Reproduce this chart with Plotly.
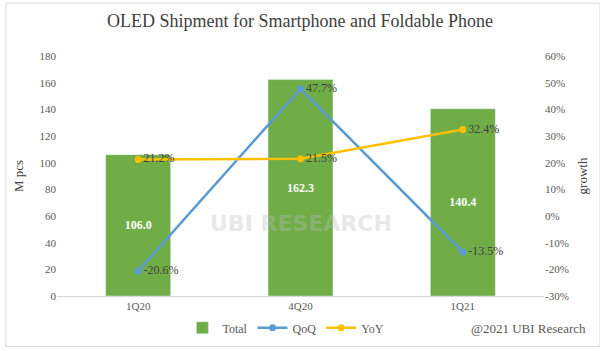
import plotly.graph_objects as go

quarters = ["1Q20", "4Q20", "1Q21"]
total = [106.0, 162.3, 140.4]
qoq = [-20.6, 47.7, -13.5]
yoy = [21.2, 21.5, 32.4]
left_ticks = [0, 20, 40, 60, 80, 100, 120, 140, 160, 180]
right_ticks = [-30, -20, -10, 0, 10, 20, 30, 40, 50, 60]

GREEN = "#70AD47"
BLUE = "#5B9BD5"
YELLOW = "#FFC000"
FONT = "Liberation Serif"

fig = go.Figure()
fig.add_trace(go.Bar(
    x=quarters, y=total, name="Total", marker_color=GREEN, width=0.4,
    text=[f"{v:.1f}" for v in total], textposition="inside", insidetextanchor="middle",
    textfont=dict(color="white", size=12, family=FONT), texttemplate="<b>%{text}</b>",
    yaxis="y"))
fig.add_trace(go.Scatter(
    x=quarters, y=qoq, name="QoQ", mode="lines+markers+text",
    line=dict(color=BLUE, width=2.5), marker=dict(size=7, color=BLUE),
    text=[f"{v:.1f}%" for v in qoq], textposition="middle right",
    textfont=dict(color="#404040", size=12, family=FONT), yaxis="y2"))
fig.add_trace(go.Scatter(
    x=quarters, y=yoy, name="YoY", mode="lines+markers+text",
    line=dict(color=YELLOW, width=2.5), marker=dict(size=7, color=YELLOW),
    text=[f"{v:.1f}%" for v in yoy], textposition="middle right",
    textfont=dict(color="#404040", size=12, family=FONT), yaxis="y2"))

fig.update_layout(
    width=600, height=351,
    margin=dict(l=57, r=56, t=56, b=55, autoexpand=False),
    paper_bgcolor="white", plot_bgcolor="white",
    font=dict(family=FONT, color="#595959", size=11),
    title=dict(text="OLED Shipment for Smartphone and Foldable Phone", x=0.5, xanchor="center",
               y=0.94, yanchor="middle", font=dict(size=18, color="#404040", family=FONT)),
    showlegend=True,
    legend=dict(orientation="h", x=0.47, xanchor="center", yref="container", y=0.066, yanchor="middle",
                font=dict(size=12, color="#595959", family=FONT), traceorder="normal",
                itemwidth=30, tracegroupgap=0),
    xaxis=dict(showgrid=False, showline=True, linecolor="#D9D9D9", linewidth=1,
               ticks="", tickfont=dict(size=11, color="#595959")),
    yaxis=dict(range=[0, 180], tickvals=left_ticks, showgrid=False, zeroline=False, showline=False,
               title=dict(text="M pcs", font=dict(size=13, color="#404040"), standoff=12),
               tickfont=dict(size=11, color="#595959")),
    yaxis2=dict(range=[-30, 60], tickvals=right_ticks, ticktext=[f"{v}%" for v in right_ticks],
                overlaying="y", side="right", showgrid=False, zeroline=False,
                title=dict(text="growth", font=dict(size=13, color="#404040"), standoff=10),
                tickfont=dict(size=11, color="#595959")),
)

fig.add_annotation(text="<b>UBI RESEARCH</b>", xref="paper", yref="paper", x=0.5, y=0.24,
                   showarrow=False, font=dict(size=22, color="rgba(190,190,190,0.35)", family="DejaVu Sans"))
fig.add_annotation(text="@2021 UBI Research", xref="paper", yref="paper", x=1.09, y=-0.135,
                   xanchor="right", yanchor="middle", showarrow=False,
                   font=dict(size=13, color="#595959", family=FONT))
fig.add_shape(type="rect", xref="paper", yref="paper", x0=-0.105, x1=1.115, y0=-0.21, y1=1.22,
              line=dict(color="#D9D9D9", width=1))

fig.write_html("out.html")
